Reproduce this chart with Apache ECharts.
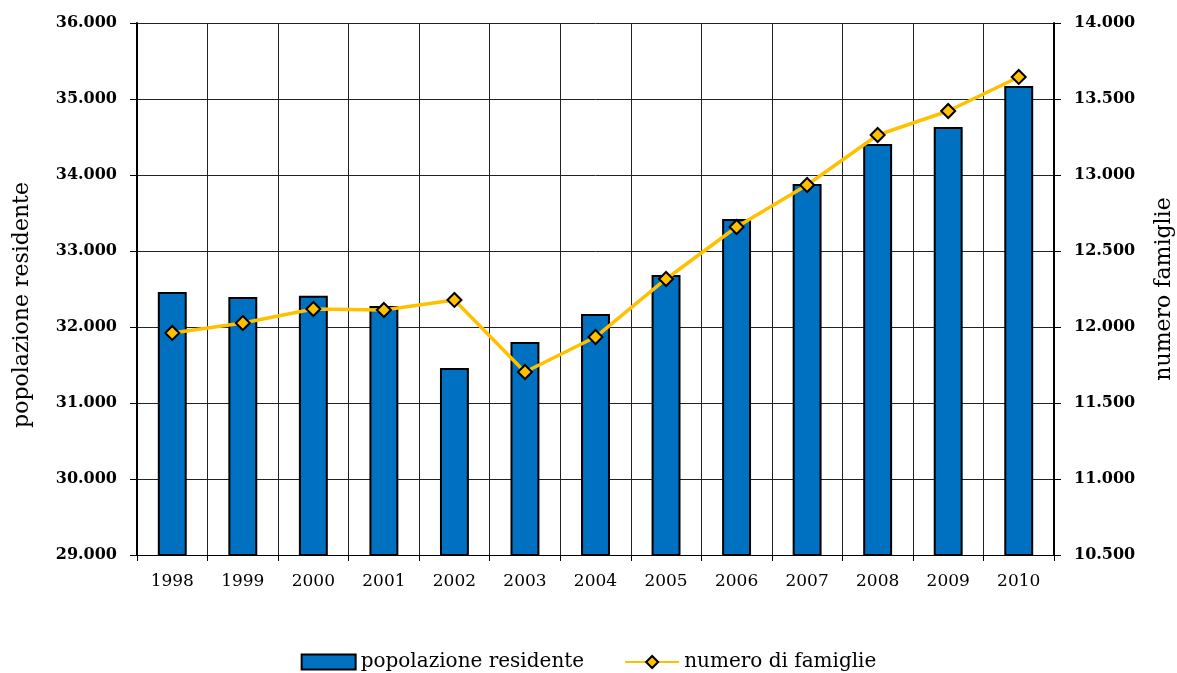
<!DOCTYPE html>
<html>
<head>
<meta charset="utf-8">
<script src="https://cdn.jsdelivr.net/npm/echarts@6/dist/echarts.min.js"></script>
<style>
  html, body { margin: 0; padding: 0; background: #fff; }
  #chart { width: 1177px; height: 673px; }
</style>
</head>
<body>
<div id="chart"></div>
<script>
// dati
const anni = ['1998', '1999', '2000', '2001', '2002', '2003', '2004', '2005', '2006', '2007', '2008', '2009', '2010'];
const popolazione = [32460, 32395, 32410, 32276, 31461, 31803, 32171, 32684, 33421, 33882, 34408, 34632, 35171];
const famiglie = [11961, 12026, 12118, 12112, 12178, 11704, 11934, 12316, 12658, 12934, 13263, 13421, 13645];

const font = 'DejaVu Serif';

function migliaia(v) {
  return String(v).replace(/\B(?=(\d{3})+(?!\d))/g, '.');
}

const chart = echarts.init(document.getElementById('chart'));

const option = {
  backgroundColor: '#fff',
  animation: false,
  textStyle: { fontFamily: font, color: '#000' },
  grid: { left: 137, right: 123, top: 23, bottom: 118, outerBoundsMode: 'none' },
  legend: {
    top: 647,
    left: 'center',
    itemWidth: 54,
    itemHeight: 15,
    itemGap: 40,
    textStyle: { fontFamily: font, fontSize: 20, color: '#000' },
    data: [
      { name: 'popolazione residente', icon: 'rect' },
      { name: 'numero di famiglie' }
    ]
  },
  xAxis: {
    type: 'category',
    data: anni,
    boundaryGap: true,
    axisLine: { show: true, lineStyle: { color: '#000', width: 1 } },
    axisTick: { show: true, length: 6, alignWithLabel: false, lineStyle: { color: '#000' } },
    axisLabel: { fontFamily: font, fontSize: 17, color: '#000', margin: 18 },
    splitLine: { show: true, lineStyle: { color: '#222', width: 1 } }
  },
  yAxis: [
    {
      type: 'value',
      min: 29000,
      max: 36000,
      interval: 1000,
      position: 'left',
      name: 'popolazione residente',
      nameLocation: 'middle',
      nameRotate: 90,
      nameGap: 104,
      nameTextStyle: { fontFamily: font, fontSize: 22, color: '#000', padding: [0, 32, 0, 0] },
      axisLine: { show: true, lineStyle: { color: '#000', width: 2 } },
      axisTick: { show: true, length: 7, lineStyle: { color: '#000' } },
      axisLabel: { fontFamily: font, fontSize: 16, color: '#000', fontWeight: 'bold', margin: 20, formatter: migliaia },
      splitLine: { show: true, lineStyle: { color: '#222', width: 1 } }
    },
    {
      type: 'value',
      min: 10500,
      max: 14000,
      interval: 500,
      position: 'right',
      name: 'numero famiglie',
      nameLocation: 'middle',
      nameRotate: 90,
      nameGap: 99,
      nameTextStyle: { fontFamily: font, fontSize: 22, color: '#000' },
      axisLine: { show: true, lineStyle: { color: '#000', width: 2 } },
      axisTick: { show: true, length: 7, lineStyle: { color: '#000' } },
      axisLabel: { fontFamily: font, fontSize: 16, color: '#000', fontWeight: 'bold', margin: 20, formatter: migliaia },
      splitLine: { show: false }
    }
  ],
  series: [
    {
      name: 'popolazione residente',
      type: 'bar',
      yAxisIndex: 0,
      data: popolazione,
      barWidth: '41%',
      itemStyle: { color: '#0070C0', borderColor: '#000', borderWidth: 2 }
    },
    {
      name: 'numero di famiglie',
      type: 'line',
      yAxisIndex: 1,
      data: famiglie,
      symbol: 'diamond',
      symbolSize: 14,
      lineStyle: { color: '#FFC000', width: 3.5 },
      itemStyle: { color: '#FFC000', borderColor: '#000', borderWidth: 2 }
    }
  ]
};

chart.setOption(option);
</script>
</body>
</html>
